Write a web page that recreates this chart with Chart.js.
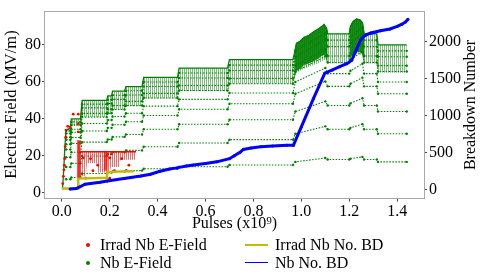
<!DOCTYPE html>
<html><head><meta charset="utf-8">
<script src="https://cdn.jsdelivr.net/npm/chart.js@4.4.1/dist/chart.umd.min.js"></script>
<style>
html,body{margin:0;padding:0;background:#fff;}
#wrap{position:relative;width:484px;height:272px;overflow:hidden;}
#c{position:absolute;left:0;top:0;}
.lg{position:absolute;font-family:"Liberation Serif","DejaVu Serif";font-size:16px;line-height:18px;color:#000;white-space:nowrap;}
.dot{position:absolute;width:4px;height:4px;border-radius:50%;}
.ln{position:absolute;width:23px;height:1.5px;}
</style></head><body>
<div id="wrap"><canvas id="c" width="484" height="272"></canvas></div>
<script>
// ---------- axis ticks ----------
const xTicks = [0, 0.2, 0.4, 0.6, 0.8, 1.0, 1.2, 1.4];
const yTicks = [0, 20, 40, 60, 80];
const y2Ticks = [0, 500, 1000, 1500, 2000];
const seriesNames = ['Irrad Nb E-Field', 'Nb E-Field', 'Irrad Nb No. BD', 'Nb No. BD'];

// ---------- Nb E-Field: upper envelope and lower edge of the dense streaks ----------
const nbTopX = [0.003,0.008,0.013,0.018, 0.036,0.040,0.078,0.085, 0.188,0.192,0.208,0.212, 0.262,0.268,0.335,0.342, 0.483,0.490,0.692,0.700, 0.965,0.972,0.98,0.995, 1.01,1.03,1.05,1.07, 1.085,1.095,1.105,1.11, 1.20,1.205,1.215,1.23, 1.245,1.255,1.262,1.315, 1.32,1.44];
const nbTopE = [2,12,25,34, 35,40,40,50, 50,52.5,52.5,55, 55,57.5,57.5,62.5, 62.5,67.5,67.5,72, 72,76,81,82, 84,85,87,88.5, 90,91,89,86, 86,90,92.5,94, 93.5,92,86,86, 80,80];
const nbStreakLowE = [2,12,25,34, 32,36,36,41, 41,43,43,45, 45,47,47,51, 51,55,55,59, 59,62,65,66, 67,68,69,70, 71,72,71,70, 70,72,74,75, 75,74,70,70, 65,65];

// dense bursts
const burst1X = [0.972,0.98,0.995,1.01,1.03,1.05,1.07,1.085,1.095,1.105,1.11];
const burst1Top = [76,81,82,84,85,87,88.5,90,91,89,86];
const burst1Low = [62,66,67,69,70,71,72.5,74,74.5,73,70.5];
const burst2X = [1.20,1.205,1.215,1.23,1.245,1.255,1.262];
const burst2Top = [86,90,92.5,94,93.5,92,86];
const burst2Low = [70.5,73,75,76,76,75,70.5];

// horizontal bands of Nb E-Field points (segment start/end values)
const bandX = [0.018,0.036, 0.040,0.078, 0.085,0.188, 0.192,0.208, 0.212,0.262, 0.268,0.335, 0.342,0.483, 0.490,0.692, 0.700,0.965, 0.975,1.100, 1.110,1.200, 1.205,1.255, 1.262,1.315, 1.320,1.440];
const band1 = [33.6,33.6, 38.4,38.4, 48,48, 50.4,50.4, 52.8,52.8, 55.2,55.2, 60,60, 64.8,64.8, 69.1,69.1, 76.8,86.4, 82.6,82.6, 84.5,89.3, 82.6,82.6, 76.8,76.8];
const band2 = [32.2,32.2, 36.8,36.8, 46,46, 48.3,48.3, 50.6,50.6, 52.9,52.9, 57.5,57.5, 62.1,62.1, 66.2,66.2, 73.6,82.8, 79.1,79.1, 81,85.6, 79.1,79.1, 73.6,73.6];
const band3 = [30.1,30.1, 34.4,34.4, 43,43, 45.2,45.2, 47.3,47.3, 49.5,49.5, 53.8,53.8, 58.1,58.1, 61.9,61.9, 68.8,77.4, 74,74, 75.7,80, 74,74, 68.8,68.8];
const band4 = [28.7,28.7, 32.8,32.8, 41,41, 43.1,43.1, 45.1,45.1, 47.2,47.2, 51.3,51.3, 55.4,55.4, 59,59, 65.6,73.8, 70.5,70.5, 72.2,76.3, 70.5,70.5, 65.6,65.6];
const band5 = [26.3,26.3, 30,30, 37.5,37.5, 39.4,39.4, 41.3,41.3, 43.1,43.1, 46.9,46.9, 50.6,50.6, 54,54, 60,67.5, 64.5,64.5, 66,69.8, 64.5,64.5, 60,60];
const band6 = [23.5,23.5, 26.8,26.8, 33.5,33.5, 35.2,35.2, 36.9,36.9, 38.5,38.5, 41.9,41.9, 45.2,45.2, 48.2,48.2, 53.6,60.3, 57.6,57.6, 59,62.3, 57.6,57.6, 53.6,53.6];
const band7 = [19.3,19.3, 22,22, 27.5,27.5, 28.9,28.9, 30.3,30.3, 31.6,31.6, 34.4,34.4, 37.1,37.1, 39.6,39.6, 44,49.5, 47.3,47.3, 48.4,51.2, 47.3,47.3, 44,44];
const band8 = [14,14, 16,16, 20,20, 21,21, 22,22, 23,23, 25,25, 27,27, 28.8,28.8, 32,36, 34.4,34.4, 35.2,37.2, 34.4,34.4, 32,32];
const band9 = [7.4,7.4, 8.4,8.4, 10.5,10.5, 11,11, 11.6,11.6, 12.1,12.1, 13.1,13.1, 14.2,14.2, 15.1,15.1, 16.8,18.9, 18.1,18.1, 18.5,19.5, 18.1,18.1, 16.8,16.8];

// ---------- Irrad Nb E-Field ----------
const irradPtsX = [0.004,0.007,0.009,0.011,0.012,0.014,0.016,0.018,0.025,0.035,0.048,0.069,0.069,0.069,0.09,0.12,0.15,0.20,0.25,0.28,0.10,0.20,0.13,0.22,0.27];
const irradPtsE = [5,9,12.5,15,18.5,25,30,34,36,35.7,42.6,42.6,37.4,33,19,18.5,15,19,18.5,15,8,8,12,12,12];
const irradBarX = [0.064,0.079];
const irradBarTop = [28.5,28.5];
const irradBarLow = [8,8];
const irradClusterX = [0.176,0.192];
const irradClusterTop = [22.3,22.3];
const irradClusterLow = [12,12];
const irradStreakX = [0.075,0.10,0.105,0.145,0.15,0.20,0.205,0.24,0.245,0.31];
const irradStreakTop = [22.3,22.3,22.3,22.3,22.3,22.3,22.3,22.3,22.3,22.3];
const irradStreakLow = [9,9,16,16,11,11,14,14,18,18];

// ---------- breakdown numbers (right axis) ----------
const irradBdX = [0,0.068,0.069,0.188,0.19,0.24,0.30];
const irradBdN = [15,15,150,160,235,245,248];
const nbBdX = [0.035,0.06,0.076,0.097,0.12,0.16,0.19,0.26,0.33,0.37,0.41,0.45,0.48,0.52,0.55,0.60,0.647,0.70,0.72,0.744,0.758,0.79,0.83,0.88,0.94,0.967,1.0,1.05,1.098,1.13,1.16,1.19,1.21,1.23,1.25,1.27,1.29,1.33,1.37,1.40,1.42,1.435,1.445];
const nbBdN = [10,15,40,75,85,100,118,150,185,210,250,280,295,320,335,355,377,420,460,506,545,565,580,592,600,602,850,1230,1577,1620,1665,1705,1750,1900,2040,2095,2120,2150,2175,2210,2240,2270,2305];

// ---------- build ----------
const GREEN = 'rgb(0,128,0)', RED = 'rgb(255,0,0)', BLUE = 'rgb(0,0,255)', YEL = 'rgb(190,190,0)';
const FONT = '"Liberation Serif", "DejaVu Serif"';
const zip = (xs, ys) => xs.map((x, i) => ({x: x, y: ys[i]}));
function stripes(color, w) {
  const c = document.createElement('canvas'); c.width = w; c.height = 2;
  const g = c.getContext('2d'); g.fillStyle = color; g.fillRect(0, 0, 1, 2);
  return g.createPattern(c, 'repeat');
}
const cx = document.getElementById('c').getContext('2d');
const greenStripe = stripes('rgba(0,128,0,0.5)', 2);
const redStripe = stripes('rgba(255,0,0,0.6)', 2);

const hiddenLine = (data, axis, order) => ({data, yAxisID: axis, borderWidth: 0, pointRadius: 0, fill: false, order});
const datasets = [];
datasets.push({label: seriesNames[3], data: zip(nbBdX, nbBdN), yAxisID: 'y2', borderColor: BLUE, backgroundColor: BLUE, borderWidth: 3, pointRadius: 1.5, pointBorderWidth: 0, fill: false, order: 0});
datasets.push({label: seriesNames[2], data: zip(irradBdX, irradBdN), yAxisID: 'y2', borderColor: YEL, borderWidth: 2.5, pointRadius: 0, fill: false, order: 1});
datasets.push({label: seriesNames[0], data: zip(irradPtsX, irradPtsE), yAxisID: 'y', showLine: false, pointRadius: 1.4, pointBackgroundColor: RED, pointBorderWidth: 0, order: 2});
datasets.push({data: zip(irradBarX, irradBarTop), yAxisID: 'y', borderWidth: 0, pointRadius: 0, backgroundColor: 'rgba(255,0,0,0.85)', fill: '+1', order: 3});
datasets.push(hiddenLine(zip(irradBarX, irradBarLow), 'y', 3));
datasets.push({data: zip(irradClusterX, irradClusterTop), yAxisID: 'y', borderWidth: 0, pointRadius: 0, backgroundColor: 'rgba(255,0,0,0.7)', fill: '+1', order: 3});
datasets.push(hiddenLine(zip(irradClusterX, irradClusterLow), 'y', 3));
datasets.push({data: zip(irradStreakX, irradStreakTop), yAxisID: 'y', borderColor: RED, borderWidth: 1.5, pointRadius: 0, backgroundColor: redStripe, fill: '+1', order: 4});
datasets.push(hiddenLine(zip(irradStreakX, irradStreakLow), 'y', 4));
datasets.push({label: seriesNames[1], data: zip(nbTopX, nbTopE), yAxisID: 'y', borderColor: GREEN, borderWidth: 1.3, pointRadius: 0, backgroundColor: greenStripe, fill: '+1', order: 20});
datasets.push(hiddenLine(zip(nbTopX, nbStreakLowE), 'y', 20));
datasets.push({data: zip(burst1X, burst1Top), yAxisID: 'y', borderColor: GREEN, borderWidth: 1, pointRadius: 0, backgroundColor: 'rgba(0,128,0,0.9)', fill: '+1', order: 15});
datasets.push(hiddenLine(zip(burst1X, burst1Low), 'y', 15));
datasets.push({data: zip(burst2X, burst2Top), yAxisID: 'y', borderColor: GREEN, borderWidth: 1, pointRadius: 0, backgroundColor: 'rgba(0,128,0,0.9)', fill: '+1', order: 15});
datasets.push(hiddenLine(zip(burst2X, burst2Low), 'y', 15));
[band1, band2, band3, band4, band5, band6, band7, band8, band9].forEach(b => {
  datasets.push({data: zip(bandX, b), yAxisID: 'y', borderColor: GREEN, borderWidth: 1.1, borderDash: [1.5, 1.5], pointRadius: 1.2, pointBackgroundColor: GREEN, pointBorderWidth: 0, fill: false, order: 10});
});

const tickFont = {family: FONT, size: 16};
const setTicks = arr => scale => { scale.ticks = arr.map(v => ({value: v})); };

const frame = {
  id: 'frame',
  afterDatasetsDraw(chart) {
    const {ctx, chartArea: a} = chart;
    ctx.save(); ctx.strokeStyle = '#a8a8a8'; ctx.lineWidth = 1;
    ctx.strokeRect(Math.round(a.left) - 0.5, Math.round(a.top) - 0.5, Math.round(a.right - a.left) + 1, Math.round(a.bottom - a.top) + 1);
    ctx.restore();
  },
  afterDraw(chart) {
    const {ctx} = chart;
    ctx.save(); ctx.fillStyle = '#000'; ctx.font = '16px ' + FONT;
    ctx.textAlign = 'center'; ctx.textBaseline = 'middle';
    ctx.translate(471, 105); ctx.rotate(-Math.PI / 2);
    ctx.fillText('Breakdown Number', 0, 0);
    ctx.restore();
  }
};

new Chart(cx, {
  type: 'line',
  data: {datasets},
  options: {
    responsive: false, animation: false, devicePixelRatio: 1,
    layout: {padding: {left: 0, right: 0, top: 2, bottom: 38.4}},
    plugins: {legend: {display: false}, tooltip: {enabled: false}},
    elements: {line: {tension: 0}},
    scales: {
      x: {type: 'linear', min: -0.07, max: 1.512,
          afterBuildTicks: setTicks(xTicks),
          afterFit: s => { s.height = 36; },
          grid: {display: true, drawOnChartArea: false, drawTicks: true, tickLength: 4, color: '#444'},
          border: {display: false},
          ticks: {font: tickFont, color: '#000', padding: 1, maxRotation: 0, callback: v => v.toFixed(1)},
          title: {display: true, text: 'Pulses (x10\u2079)', font: {family: FONT, size: 16}, color: '#000', padding: {top: 0, bottom: 0}}},
      y: {type: 'linear', position: 'left', min: -2.5, max: 98,
          afterBuildTicks: setTicks(yTicks),
          afterFit: s => { s.width = 45; },
          grid: {display: true, drawOnChartArea: false, drawTicks: true, tickLength: 3, color: '#444'},
          border: {display: false},
          ticks: {font: tickFont, color: '#000', padding: 1, callback: v => String(v)},
          title: {display: true, text: 'Electric Field (MV/m)', font: {family: FONT, size: 16.5}, color: '#000', padding: {top: 2, bottom: 0}}},
      y2: {type: 'linear', position: 'right', min: -107, max: 2410,
          afterBuildTicks: setTicks(y2Ticks),
          afterFit: s => { s.width = 60; },
          grid: {display: true, drawOnChartArea: false, drawTicks: true, tickLength: 3, color: '#444'},
          border: {display: false},
          ticks: {font: tickFont, color: '#000', padding: 2, callback: v => String(v)}}
    }
  },
  plugins: [frame]
});

// ---------- legend (HTML text) ----------
const wrap = document.getElementById('wrap');
const legendItems = [
  {name: seriesNames[0], kind: 'dot', color: RED, mx: 85.5, tx: 100, cy: 245},
  {name: seriesNames[1], kind: 'dot', color: GREEN, mx: 85.5, tx: 100, cy: 262.5},
  {name: seriesNames[2], kind: 'ln', color: YEL, mx: 245, tx: 275, cy: 245},
  {name: seriesNames[3], kind: 'ln', color: BLUE, mx: 245, tx: 275, cy: 262.5}
];
legendItems.forEach(it => {
  const m = document.createElement('span');
  m.className = it.kind; m.style.background = it.color;
  m.style.left = it.mx + 'px';
  m.style.top = (it.kind === 'dot' ? it.cy - 2 : it.cy - 0.75) + 'px';
  wrap.appendChild(m);
  const t = document.createElement('span');
  t.className = 'lg'; t.textContent = it.name;
  t.style.left = it.tx + 'px'; t.style.top = (it.cy - 9) + 'px';
  wrap.appendChild(t);
});
</script>
</body></html>
